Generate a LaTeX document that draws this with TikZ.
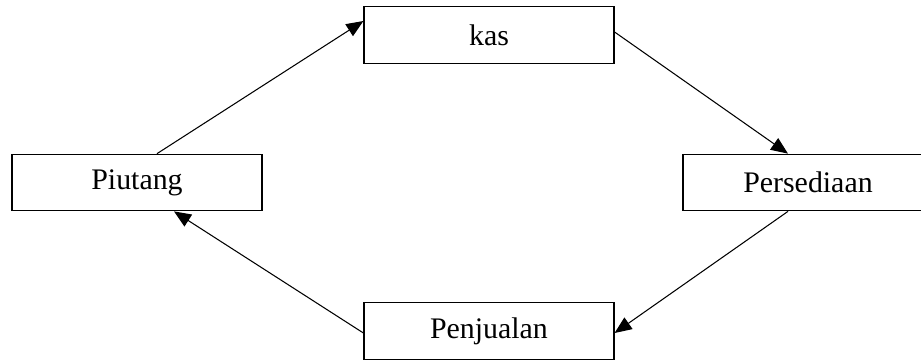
\documentclass[tikz,border=0pt]{standalone}
\usepackage{fontspec}
\setmainfont{Liberation Serif}
\usepackage{tikz}
\usetikzlibrary{arrows.meta,positioning}
\tikzset{
  % kotak akun
  box/.style={
    draw=black,
    line width=0.7pt,
    fill=white,
    minimum width=5cm,
    minimum height=1.13cm,
    inner sep=0pt,
    font=\fontsize{17}{20}\selectfont
  },
  % panah siklus
  arr/.style={-{Triangle[length=0.34cm,width=0.28cm]}, line width=0.6pt, black},
}
\begin{document}
\begin{tikzpicture}[x=0.02cm,y=-0.02cm]
    \clip (0,0) rectangle (921,360);
    \useasboundingbox (0,0) rectangle (921,360);

    % Kotak
    \node[box] (kas) at (489,35) {kas};
    \node[box] (piutang) at (137,182.5) {Piutang};
    \node[box] (persediaan) at (808,182.5) {Persediaan};
    \node[box] (penjualan) at (489,331) {Penjualan};

    % Panah
    \draw[arr] ([xshift=0.4cm]piutang.north) -- ([yshift=0.28cm]kas.west);
    \draw[arr] ([yshift=0.06cm]kas.east) -- ([xshift=-0.4cm]persediaan.north);
    \draw[arr] ([xshift=-0.4cm]persediaan.south) -- ([yshift=-0.04cm]penjualan.east);
    \draw[arr] ([yshift=-0.04cm]penjualan.west) -- ([xshift=0.74cm]piutang.south);
\end{tikzpicture}
\end{document}
